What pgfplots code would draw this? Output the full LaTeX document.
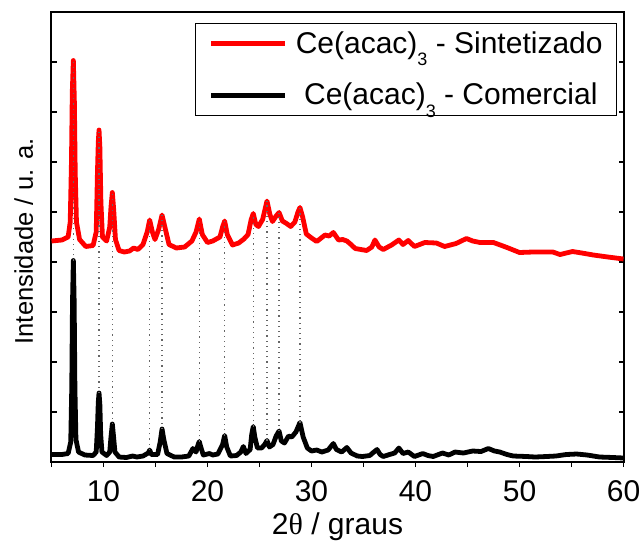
\documentclass[border=0pt]{standalone}
\usepackage{fontspec}
\setmainfont{Liberation Sans}
\newfontfamily\serifgreek{Liberation Serif}
\usepackage{pgfplots}
\pgfplotsset{compat=1.18}
\newcommand{\subthree}{\raisebox{-6.2pt}{\fontsize{9}{10}\selectfont 3}}
\begin{document}
\begin{tikzpicture}
\begin{axis}[
  name=ax,
  scale only axis,
  width=286pt, height=225pt,
  xmin=5, xmax=60, ymin=0, ymax=9,
  axis line style={line width=1pt},
  xtick={5,10,...,60},
  xticklabels={,10,,20,,30,,40,,50,,60},
  ytick={0,1,...,9},
  yticklabels={},
  tick align=inside,
  xtick pos=bottom,
  ytick pos=both,
  major tick length=2.5pt,
  every tick/.style={black, line width=0.8pt},
  x tick style={yshift=-2.5pt},
  /pgf/number format/assume math mode=true,
  xticklabel style={font=\fontsize{15}{18}\selectfont, anchor=base, yshift=-19.6pt},
  every axis x label/.style={at={(rel axis cs:0.5,0)}, anchor=base, yshift=-36pt, font=\fontsize{15}{18}\selectfont},
  every axis y label/.style={at={(rel axis cs:0,0.49)}, rotate=90, anchor=base, yshift=9.25pt, font=\fontsize{12.8}{15}\selectfont},
  xlabel={2{\serifgreek θ} / graus},
  ylabel={Intensidade / u. a.},
  legend cell align=left,
  legend image code/.code={\path (-3pt,0pt) -- (34pt,0pt); \draw[#1, line width=2.2pt] (0pt,0pt) -- (34pt,0pt);},
  legend style={at={(rel axis cs:1,1)}, anchor=north east, xshift=-3.25pt, yshift=-5.5pt,
    draw=black, inner xsep=7pt, inner ysep=4pt,
    font=\fontsize{15}{18}\selectfont, row sep=13.5pt, column sep=4pt,
    nodes={inner sep=0pt}},
]
\addplot[red, line width=2.4pt, line join=round] coordinates {
(5.0,4.42) (6.0,4.44) (6.6,4.5) (6.8,4.8) (6.92,6.0) (7.0,7.4) (7.1,8.03) (7.2,7.2) (7.28,5.8) (7.4,4.8)
(7.7,4.45) (8.3,4.31) (9.0,4.33) (9.3,4.6) (9.42,5.8) (9.5,6.4) (9.57,6.64) (9.65,6.3) (9.75,5.2) (9.9,4.5)
(10.3,4.42) (10.6,4.7) (10.72,5.1) (10.85,5.39) (10.98,5.05) (11.15,4.45) (11.5,4.23) (12.0,4.2) (12.5,4.22)
(12.9,4.28) (13.3,4.25) (13.8,4.35) (14.2,4.6) (14.44,4.84) (14.7,4.6) (14.95,4.45) (15.3,4.65) (15.63,4.94)
(15.9,4.7) (16.3,4.35) (17.0,4.28) (17.8,4.3) (18.5,4.42) (18.9,4.6) (19.21,4.86) (19.5,4.55) (20.0,4.39)
(20.5,4.42) (21.2,4.5) (21.45,4.7) (21.65,4.82) (21.9,4.55) (22.4,4.34) (23.0,4.38) (23.5,4.46) (23.9,4.55)
(24.2,4.85) (24.4,4.97) (24.65,4.75) (24.9,4.71) (25.3,4.85) (25.72,5.22) (26.0,4.95) (26.25,4.81) (26.6,4.92)
(26.88,4.99) (27.2,4.82) (27.6,4.77) (28.0,4.71) (28.4,4.8) (28.7,5.0) (28.89,5.09) (29.15,4.9) (29.5,4.56)
(30.0,4.48) (30.5,4.41) (31.3,4.54) (31.7,4.52) (32.1,4.59) (32.6,4.44) (33.0,4.45) (33.4,4.42) (33.8,4.35)
(34.2,4.27) (35.3,4.23) (35.8,4.3) (36.1,4.44) (36.5,4.3) (36.9,4.25) (37.7,4.34) (38.4,4.44) (38.8,4.35)
(39.3,4.43) (39.9,4.31) (40.9,4.39) (42.0,4.38) (42.8,4.31) (43.9,4.37) (44.9,4.47) (45.5,4.42) (46.2,4.39)
(47.5,4.39) (48.8,4.29) (50.0,4.19) (51.3,4.2) (52.4,4.2) (53.2,4.2) (53.9,4.15) (55.1,4.21) (56.0,4.18)
(57.1,4.14) (58.5,4.1) (60.0,4.06)
};
\addlegendentry{Ce(acac)\subthree\ - Sintetizado}
\addplot[black, line width=2.4pt, line join=round] coordinates {
(5.0,0.15) (6.0,0.15) (6.6,0.17) (6.85,0.4) (6.95,1.5) (7.02,3.2) (7.1,4.03) (7.18,3.2) (7.25,1.5) (7.35,0.45)
(7.6,0.2) (8.2,0.14) (9.0,0.13) (9.3,0.2) (9.42,0.7) (9.5,1.2) (9.57,1.38) (9.65,1.15) (9.73,0.55) (9.85,0.2)
(10.3,0.13) (10.6,0.2) (10.72,0.5) (10.85,0.76) (10.97,0.5) (11.1,0.2) (11.5,0.1) (12.2,0.09) (12.8,0.12)
(13.2,0.1) (13.8,0.12) (14.3,0.18) (14.44,0.24) (14.6,0.15) (15.2,0.15) (15.45,0.4) (15.63,0.66) (15.8,0.45)
(16.1,0.17) (16.8,0.1) (17.5,0.1) (18.2,0.12) (18.6,0.27) (18.9,0.2) (19.1,0.35) (19.21,0.41) (19.35,0.3)
(19.6,0.14) (20.2,0.17) (20.5,0.14) (21.0,0.16) (21.45,0.35) (21.65,0.53) (21.85,0.3) (22.2,0.12) (22.8,0.13)
(23.2,0.2) (23.45,0.31) (23.7,0.17) (24.1,0.25) (24.25,0.55) (24.4,0.71) (24.55,0.5) (24.8,0.28) (25.2,0.28)
(25.5,0.35) (25.72,0.43) (25.95,0.3) (26.3,0.35) (26.6,0.52) (26.88,0.62) (27.1,0.42) (27.4,0.38) (27.8,0.52)
(28.1,0.5) (28.5,0.6) (28.89,0.79) (29.2,0.5) (29.6,0.28) (30.0,0.22) (30.5,0.24) (31.0,0.2) (31.6,0.24)
(32.1,0.37) (32.4,0.25) (32.9,0.2) (33.4,0.29) (33.8,0.18) (34.4,0.12) (34.9,0.11) (35.6,0.13) (36.0,0.2)
(36.3,0.25) (36.6,0.15) (36.9,0.11) (37.5,0.15) (38.0,0.18) (38.4,0.28) (38.8,0.17) (39.3,0.2) (39.9,0.11)
(40.7,0.17) (41.2,0.13) (41.7,0.11) (42.6,0.18) (43.2,0.14) (43.8,0.2) (44.6,0.18) (45.5,0.22) (46.3,0.21)
(47.0,0.27) (47.6,0.22) (48.1,0.2) (48.8,0.15) (49.4,0.12) (50.7,0.11) (51.5,0.1) (52.6,0.11) (53.5,0.12)
(54.5,0.15) (55.5,0.16) (56.5,0.14) (57.7,0.1) (59.0,0.09) (60.0,0.08)
};
\addlegendentry{\ Ce(acac)\subthree\ - Comercial}
\addplot[black!60, dotted, line width=0.6pt, forget plot] coordinates {(7.1,4.03) (7.1,8.03)};
\addplot[black!60, dotted, line width=0.6pt, forget plot] coordinates {(9.57,1.38) (9.57,6.64)};
\addplot[black!60, dotted, line width=0.6pt, forget plot] coordinates {(10.85,0.76) (10.85,5.39)};
\addplot[black!60, dotted, line width=0.6pt, forget plot] coordinates {(14.44,0.24) (14.44,4.84)};
\addplot[black!60, dotted, line width=0.6pt, forget plot] coordinates {(15.63,0.66) (15.63,4.94)};
\addplot[black!60, dotted, line width=0.6pt, forget plot] coordinates {(19.21,0.41) (19.21,4.86)};
\addplot[black!60, dotted, line width=0.6pt, forget plot] coordinates {(21.65,0.53) (21.65,4.82)};
\addplot[black!60, dotted, line width=0.6pt, forget plot] coordinates {(24.40,0.71) (24.40,4.97)};
\addplot[black!60, dotted, line width=0.6pt, forget plot] coordinates {(25.72,0.43) (25.72,5.22)};
\addplot[black!60, dotted, line width=0.6pt, forget plot] coordinates {(26.88,0.62) (26.88,4.99)};
\addplot[black!60, dotted, line width=0.6pt, forget plot] coordinates {(28.89,0.79) (28.89,5.09)};
\coordinate (ll) at (rel axis cs:0,0);
\coordinate (ur) at (rel axis cs:1,1);
\end{axis}
\pgfresetboundingbox
\path[use as bounding box] ([xshift=-25.75pt,yshift=-40pt]ll) rectangle ([xshift=7.75pt,yshift=6pt]ur);
\end{tikzpicture}
\end{document}
